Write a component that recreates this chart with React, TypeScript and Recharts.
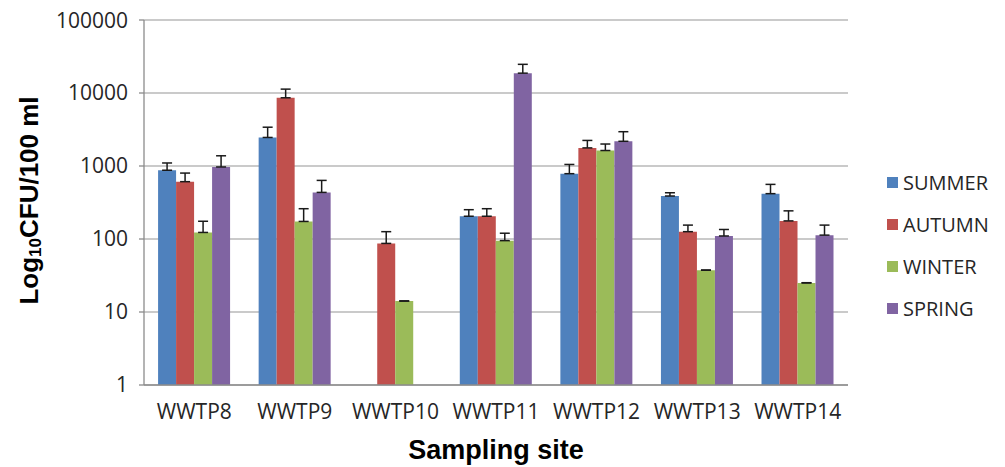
import { BarChart, Bar, XAxis, YAxis, CartesianGrid, Legend, ErrorBar } from 'recharts';

const sites = ['WWTP8', 'WWTP9', 'WWTP10', 'WWTP11', 'WWTP12', 'WWTP13', 'WWTP14'];

// mean values (CFU/100 ml), null = no bar
const summer = [875, 2460, null, 205, 785, 388, 418];
const autumn = [610, 8600, 87, 205, 1770, 126, 177];
const winter = [123, 174, 14.1, 95, 1630, 37.3, 25];
const spring = [970, 435, null, 18700, 2180, 110, 113];

// upper error (plus only)
const summerErr = [225, 940, null, 47, 265, 42, 142];
const autumnErr = [190, 2700, 39, 55, 470, 29, 66];
const winterErr = [52, 86, 0.1, 25, 370, 0.3, 0.2];
const springErr = [410, 200, null, 6000, 770, 25, 42];

const yTicks = [1, 10, 100, 1000, 10000, 100000];
const siteEdges = [0, 1, 2, 3, 4, 5, 6, 7];

const seasons = [
  { key: 'SUMMER', color: '#4f81bd' },
  { key: 'AUTUMN', color: '#c0504d' },
  { key: 'WINTER', color: '#9bbb59' },
  { key: 'SPRING', color: '#8064a2' },
];

const err = (v: number | null) => (v == null ? null : [0, v]);

const data = sites.map((site, i) => ({
  site,
  SUMMER: summer[i],
  AUTUMN: autumn[i],
  WINTER: winter[i],
  SPRING: spring[i],
  errSUMMER: err(summerErr[i]),
  errAUTUMN: err(autumnErr[i]),
  errWINTER: err(winterErr[i]),
  errSPRING: err(springErr[i]),
}));

const FONT = '"Open Sans", sans-serif';
const AXIS = '#8c8c8c';

const YLabel = ({ viewBox }: any) => {
  const cx = viewBox.x + 21;
  const cy = viewBox.y + viewBox.height / 2 - 2;
  return (
    <text
      x={cx}
      y={cy}
      transform={`rotate(-90 ${cx} ${cy})`}
      textAnchor="middle"
      dominantBaseline="central"
      fontFamily="'Liberation Sans', Arial, sans-serif"
      fontWeight="bold"
      fontSize={26}
      fill="#000"
    >
      Log<tspan fontSize={17} dy={6}>10</tspan>
      <tspan dy={-6}>CFU/100 ml</tspan>
    </text>
  );
};

const XLabel = ({ viewBox }: any) => (
  <text
    x={viewBox.x + viewBox.width / 2}
    y={viewBox.y + 65}
    textAnchor="middle"
    dominantBaseline="central"
    fontFamily="'Liberation Sans', Arial, sans-serif"
    fontWeight="bold"
    fontSize={27}
    fill="#000"
  >
    Sampling site
  </text>
);

const SeasonLegend = () => (
  <div style={{ fontFamily: FONT, fontSize: 20, color: '#262626' }}>
    {seasons.map((s) => (
      <div key={s.key} style={{ height: 42, display: 'flex', alignItems: 'center' }}>
        <span style={{ width: 11, height: 11, background: s.color, marginRight: 5 }} />
        {s.key}
      </div>
    ))}
  </div>
);

export default function App() {
  return (
    <BarChart
      width={997}
      height={459}
      data={data}
      margin={{ top: 12, right: 157, bottom: 0, left: 0 }}
      barCategoryGap="14%"
      barGap={0}
    >
      <CartesianGrid vertical={false} stroke="#b8b8b8" strokeWidth={1.3} />
      <XAxis
        xAxisId="edges"
        type="number"
        domain={[0, 7]}
        ticks={siteEdges}
        allowDataOverflow
        height={0}
        axisLine={false}
        tick={false}
        tickSize={7}
        tickLine={{ stroke: AXIS, strokeWidth: 1.3 }}
      />
      <XAxis
        dataKey="site"
        height={82}
        tickLine={false}
        tickSize={0}
        tickMargin={19}
        axisLine={{ stroke: AXIS, strokeWidth: 1.3 }}
        tick={{ fontFamily: FONT, fontSize: 21, fill: '#262626' }}
        label={<XLabel />}
      />
      <YAxis
        type="number"
        scale="log"
        domain={[1, 100000]}
        ticks={yTicks}
        allowDataOverflow
        width={136}
        tickSize={5}
        tickMargin={11}
        axisLine={{ stroke: AXIS, strokeWidth: 1.3 }}
        tickLine={{ stroke: AXIS, strokeWidth: 1.3 }}
        tick={{ fontFamily: FONT, fontSize: 21, fill: '#262626' }}
        label={<YLabel />}
      />
      <Legend
        layout="vertical"
        align="center"
        verticalAlign="middle"
        content={<SeasonLegend />}
        wrapperStyle={{ left: 879, top: 153, width: 118 }}
      />
      {seasons.map((s) => (
        <Bar key={s.key} dataKey={s.key} fill={s.color} isAnimationActive={false}>
          <ErrorBar dataKey={'err' + s.key} width={5} stroke="#1a1a1a" strokeWidth={1.5} />
        </Bar>
      ))}
    </BarChart>
  );
}
